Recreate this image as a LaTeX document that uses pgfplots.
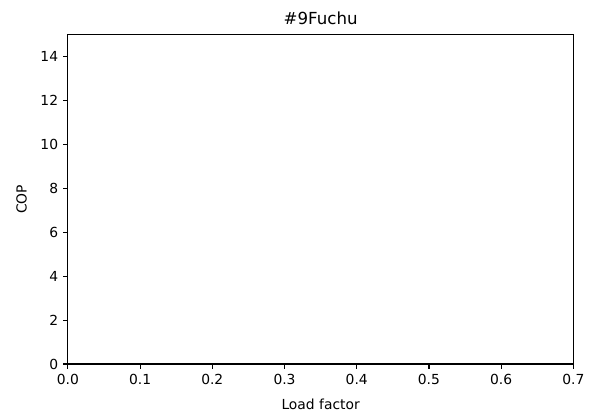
\documentclass[border=0pt]{standalone}
\usepackage{pgfplots}
\pgfplotsset{compat=1.18}
\usepackage{fontspec}
\setmainfont{DejaVu Sans}
\begin{document}
\begin{tikzpicture}
\begin{axis}[
  at={(0,0)}, anchor=south west,
  scale only axis,
  width=365pt, height=237.6pt,
  xmin=0, xmax=0.7, ymin=0, ymax=15,
  xtick={0,0.1,0.2,0.3,0.4,0.5,0.6,0.7},
  ytick={0,2,4,6,8,10,12,14},
  xticklabel style={/pgf/number format/fixed,/pgf/number format/fixed zerofill,/pgf/number format/precision=1},
  /pgf/number format/assume math mode=true,
  tick align=outside,
  tick pos=left,
  major tick length=3.5pt,
  axis line style={line width=0.8pt},
  every tick/.style={line width=0.8pt, black},
  tick label style={font=\fontsize{10}{12}\selectfont},
  xticklabel style={yshift=-0.5pt},
  label style={font=\fontsize{10}{12}\selectfont},
  title style={font=\fontsize{12}{14}\selectfont, yshift=-2pt},
  title={\#9Fuchu},
  xlabel={Load factor},
  ylabel={COP},
  xlabel style={yshift=-3pt},
  ylabel style={yshift=3pt},
]
\end{axis}
\path[use as bounding box] (-49pt,-33.8pt) rectangle (375.1pt,262.8pt);
\end{tikzpicture}
\end{document}
